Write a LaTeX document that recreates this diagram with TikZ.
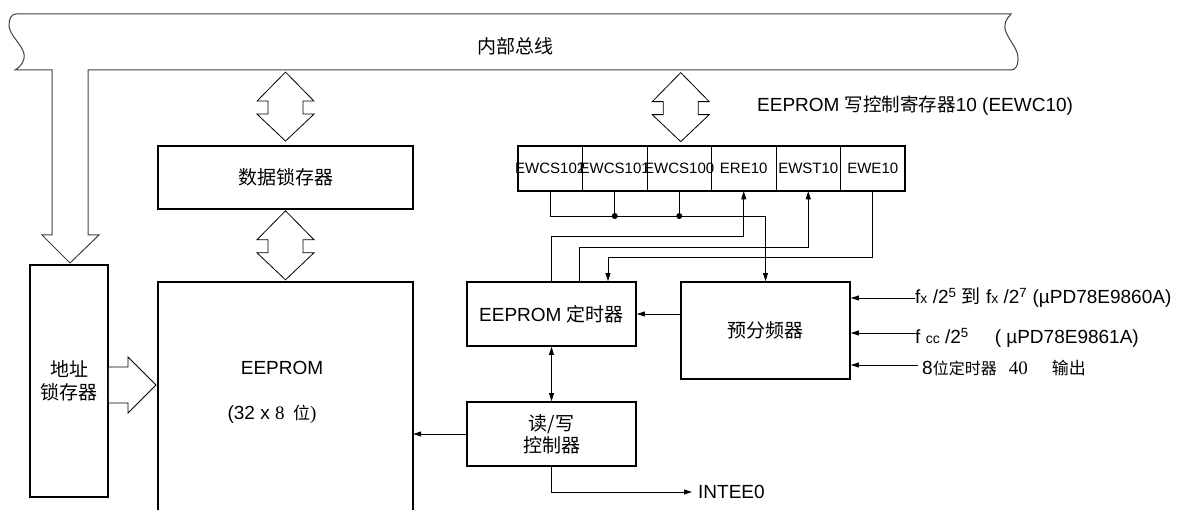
\documentclass[tikz,border=0pt]{standalone}
\usepackage{fontspec}
\setmainfont{Liberation Sans}
\newfontfamily\cjk{Noto Sans CJK SC}
\newfontfamily\serifnum{Liberation Serif}
\usetikzlibrary{arrows.meta,calc}
\begin{document}
\begin{tikzpicture}[x=1pt,y=-1pt,
  box/.style={draw,line width=1.8pt,inner sep=0pt},
  cell/.style={draw,line width=0.7pt,minimum width=64.5pt,minimum height=45pt,inner sep=0pt,font=\fontsize{15}{15}\selectfont},
  conn/.style={line width=0.8pt},
  arr/.style={conn,-{Triangle[length=8pt,width=5pt]}},
  darr/.style={conn,{Triangle[length=8pt,width=5pt]}-{Triangle[length=8pt,width=5pt]}},
  hollow/.style={draw,line width=0.8pt,fill=white},
  bus/.style={draw,line width=1pt,black!75},
  dot/.style={circle,fill,inner sep=0pt,minimum size=6pt},
  big/.style={font=\fontsize{19}{22}\selectfont},
  bigcjk/.style={font=\cjk\fontsize{19}{23}\selectfont},
  vdarrow/.pic={\draw[hollow] (0,0) -- (28.5,29) -- (17.5,29) -- (17.5,42) -- (28.5,42) -- (0,69) -- (-28.5,42) -- (-17.5,42) -- (-17.5,29) -- (-28.5,29) -- cycle;},
]
\useasboundingbox (0,0) rectangle (1184,510);

% internal bus with address arrow
\draw[bus] (16,14) -- (1011,14)
  .. controls (1006,19) and (1003,25) .. (1006,32)
  .. controls (1010,42) and (1019,50) .. (1018,60)
  .. controls (1018,66) and (1015,70) .. (1011,70)
  -- (88,70) -- (88,235) -- (99,235) -- (70,263) -- (42,235) -- (52,235) -- (52,70) -- (15,70)
  .. controls (22,66) and (25,60) .. (24,54)
  .. controls (22,44) and (10,36) .. (9,26)
  .. controls (9,19) and (11,14) .. (16,14) -- cycle;
\node[bigcjk] (buslabel) at (515,46) {内部总线};

% address latch
\node[box,minimum width=78pt,minimum height=232pt,align=center,bigcjk] (addr) at (69,381) {地址\\锁存器};
\draw[hollow] (addr.east |- 0,367) -- (128,367) -- (128,357) -- (156,385) -- (128,413) -- (128,403) -- (addr.east |- 0,403);

% data latch and EEPROM
\node[box,minimum width=255pt,minimum height=63pt,bigcjk] (dlatch) at (285.5,177.5) {数据锁存器};
\node[minimum width=255pt,minimum height=232pt,inner sep=0pt] (eeprom) at (285.5,398) {};
\draw[line width=1.8pt] (eeprom.south west) -- (eeprom.north west) -- (eeprom.north east) -- (eeprom.south east);
\node[big] (eelab) at (282,368) {EEPROM};
\node[big] (eesize) at (272,414) {(32 x {\serifnum 8}\ \,{\cjk\fontsize{17}{17}\selectfont 位}{\serifnum )}};
\pic at ([yshift=73pt]dlatch.north) {vdarrow};
\pic at ([yshift=71pt]eeprom.north) {vdarrow};

% register EEWC10
\node[cell] (c1) at (550.25,168.5) {\makebox[0pt]{EWCS102}};
\node[cell] (c2) at (614.75,168.5) {\makebox[0pt]{EWCS101}};
\node[cell] (c3) at (679.25,168.5) {\makebox[0pt]{EWCS100}};
\node[cell] (c4) at (743.75,168.5) {\raisebox{-4pt}{ERE10}};
\node[cell] (c5) at (808.25,168.5) {EWST10};
\node[cell] (c6) at (872.75,168.5) {EWE10};
\draw[line width=1.8pt] (c1.north west) rectangle (c6.south east);
\pic at ([yshift=73pt,xshift=1.5pt]c3.north) {vdarrow};
\node[anchor=west,inner sep=0pt,font=\fontsize{19}{19}\selectfont] (title) at (757,106) {EEPROM {\cjk\fontsize{18.5}{18.5}\selectfont 写控制寄存器}10 (EEWC10)};

% timer, prescaler, read/write controller
\node[box,minimum width=169pt,minimum height=64pt,big] (timer) at (551.5,314) {EEPROM {\cjk 定时器}};
\node[box,minimum width=169pt,minimum height=97pt,bigcjk] (pre) at (765.5,330.5) {预分频器};
\node[box,minimum width=169pt,minimum height=64pt,align=center,font=\cjk\fontsize{19}{22}\selectfont] (rw) at (551.5,434) {读/写\\控制器};
\node[big,anchor=west,inner sep=0pt] (intee) at (698,492) {INTEE0};

\coordinate (y216) at (0,216);
\coordinate (y236) at (0,236);
\coordinate (y247) at (0,247);
\coordinate (y257) at (0,257);
\coordinate (t2) at ([xshift=28pt]timer.north);
\coordinate (t3) at ([xshift=56.5pt]timer.north);

\draw[arr] (c1.south) |- (pre.north |- y216) -- (pre.north);
\node[dot] (d1) at (c2.south |- y216) {};
\node[dot] (d2) at (c3.south |- y216) {};
\draw[conn] (c2.south) -- (d1);
\draw[conn] (c3.south) -- (d2);
\draw[arr] (timer.north) |- (c4.south |- y236) -- (c4.south);
\draw[arr] (t2) |- (c5.south |- y247) -- (c5.south);
\draw[arr] (c6.south) |- (t3 |- y257) -- (t3);

\draw[arr] (pre.west |- timer.east) -- (timer.east);
\draw[darr] (timer.south) -- (rw.north);
\draw[arr] (rw.west) -- (rw.west -| eeprom.east);
\draw[arr,shorten >=6pt] (rw.south) |- (intee.west);

% prescaler inputs
\node[big,anchor=west,inner sep=0pt] (l1) at (915,298) {f{\fontsize{14}{14}\selectfont x} /2\textsuperscript{5} {\cjk 到} f{\fontsize{14}{14}\selectfont x} /2\textsuperscript{7} (µPD78E9860A)};
\node[big,anchor=west,inner sep=0pt] (l2) at (915,338) {f {\fontsize{14}{14}\selectfont cc} /2\textsuperscript{5}\hspace{26pt}( µPD78E9861A)};
\node[big,anchor=west,inner sep=0pt] (l3) at (922,368) {8{\cjk\fontsize{16}{16}\selectfont 位定时器}\hspace{12pt}{\serifnum 40}\hspace{24pt}{\cjk\fontsize{17}{17}\selectfont 输出}};
\draw[arr] (l1.west) -- (l1.west -| pre.east);
\draw[arr] ([yshift=5pt]l2.west) -- ([yshift=5pt]l2.west -| pre.east);
\draw[arr] ([yshift=3pt,xshift=-4pt]l3.west) -- ([yshift=3pt]l3.west -| pre.east);
\end{tikzpicture}
\end{document}
